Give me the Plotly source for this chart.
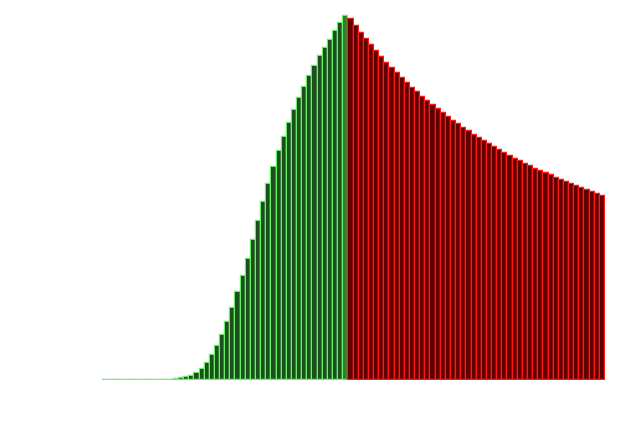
import plotly.graph_objects as go

# Rising (green) part, left to right
green_values = [0, 0, 0, 0, 0, 0, 0, 0, 0, 0, 0, 0, 0.1, 0.3,
                0.8, 1.8, 2.8, 4.5, 7.2, 11.5, 17.2, 25.2, 34.2, 45.5,
                58.5, 72.5, 87.8, 104.5, 121.5, 140, 158.8, 178.2, 196.2, 213.2,
                228.8, 243.2, 257.2, 269.8, 282, 293.5, 304.5, 314.2, 323.8, 332.2,
                340.5, 349.5, 357.2, 364.5]
# Falling (red) part, left to right
red_values = [361.2, 354.5, 347.5, 341.2, 334.8, 329.2, 323.2, 317.5, 312.2, 307.2,
              301.8, 297.2, 292.2, 287.8, 283.2, 279.2, 275.3, 271.2, 267.2, 263.5,
              259.5, 255.8, 252.2, 248.8, 245.5, 242.2, 238.8, 235.8, 232.8, 229.8,
              226.8, 224.2, 221.5, 218.8, 216.5, 214.2, 211.5, 209.2, 206.8, 204.8,
              202.5, 200.2, 198.2, 196.2, 193.8, 191.8, 189.8, 188.2, 186.2, 184.2]

green_x = list(range(len(green_values)))
red_x = list(range(len(green_values), len(green_values) + len(red_values)))

green_fill = ["#1b4f1b"] * len(green_values)
green_fill[-1] = "#2f7f2f"

fig = go.Figure()
fig.add_trace(go.Bar(x=green_x, y=green_values,
                     marker=dict(color=green_fill, line=dict(color="#6aee6a", width=1.2)),
                     hoverinfo="skip"))
fig.add_trace(go.Bar(x=red_x, y=red_values,
                     marker=dict(color="#620000", line=dict(color="#ff1a1a", width=1.2)),
                     hoverinfo="skip"))

n = len(green_values) + len(red_values)
fig.update_layout(
    width=625, height=443,
    margin=dict(l=94, r=28, t=0, b=71),
    paper_bgcolor="white", plot_bgcolor="white",
    bargap=0, showlegend=False,
    xaxis=dict(range=[-0.5, n - 0.5], showgrid=False, zeroline=False,
               showticklabels=False, showline=False, ticks=""),
    yaxis=dict(range=[0, 372], showgrid=False, zeroline=False,
               showticklabels=False, showline=False, ticks=""),
)
fig.write_html("out.html")
